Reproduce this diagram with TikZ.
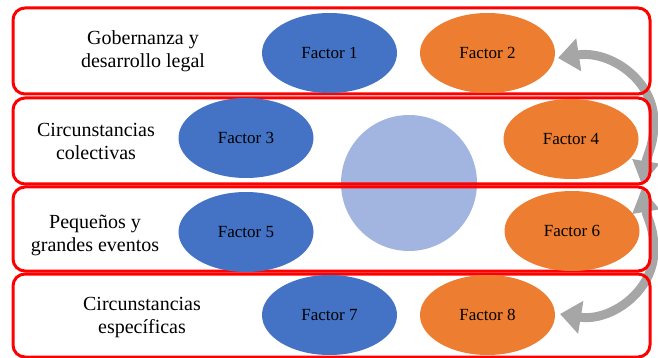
\documentclass[tikz,border=0pt]{standalone}
\usepackage{fontspec}
\setmainfont{Liberation Serif}
\newfontfamily\labelface{Liberation Serif}
\usetikzlibrary{shapes.geometric,arrows.meta}
\definecolor{boxred}{RGB}{255,0,0}
\definecolor{factorblue}{RGB}{68,114,196}
\definecolor{factororange}{RGB}{237,125,49}
\definecolor{hubblue}{RGB}{161,181,224}
\definecolor{arcgray}{RGB}{166,166,166}

\begin{document}
\begin{tikzpicture}[x=1pt,y=-1pt,
  rowbox/.style={draw=boxred, line width=3pt, rounded corners=12pt,
    minimum width=637pt, inner sep=0pt},
  rowlabel/.style={align=center, text=black, font=\labelface\fontsize{20}{23}\selectfont},
  factor/.style={ellipse, minimum width=135pt, minimum height=80pt, inner sep=0pt,
    text=black, font=\labelface\fontsize{17}{20}\selectfont},
  bluef/.style={factor, fill=factorblue},
  orangef/.style={factor, fill=factororange},
  cyclearc/.style={draw=arcgray, line width=9pt,
    {Triangle[length=21pt 0 1,width=32pt 0 1]}-{Triangle[length=24pt 0 1,width=26pt 0 1]}}
]
\useasboundingbox (0,0) rectangle (658,358);

% end points of the two curved arrows on the right
\coordinate (topTip) at (558,58);
\coordinate (midTopTip) at (642,185);
\coordinate (midBotTip) at (642,188);
\coordinate (botTip) at (560,314);

% curved arrows
\draw[cyclearc] (topTip) .. controls (610,50) and (654,80) .. (654,122)
  .. controls (654,145) and (647,155) .. (midTopTip);
\draw[cyclearc] (botTip) .. controls (610,322) and (654,292) .. (654,250)
  .. controls (654,227) and (647,218) .. (midBotTip);

% central circle
\node[circle, fill=hubblue, minimum size=136pt, inner sep=0pt] (hub) at (409,183) {};

% row frames
\node[rowbox, minimum height=86pt] (r1) at (331.5,51) {};
\node[rowbox, minimum height=86pt] (r2) at (331.5,141) {};
\node[rowbox, minimum height=84pt] (r3) at (331.5,229) {};
\node[rowbox, minimum height=83pt] (r4) at (331.5,315.5) {};

% row titles
\node[rowlabel] (t1) at (143,51) {Gobernanza y\\desarrollo legal};
\node[rowlabel] (t2) at (96,141) {Circunstancias\\colectivas};
\node[rowlabel] (t3) at (95,235) {Pequeños y\\grandes eventos};
\node[rowlabel] (t4) at (142,318) {Circunstancias\\específicas};

% factors
\node[bluef] (f1) at (329.5,53) {Factor 1};
\node[orangef] (f2) at (487.5,53) {Factor 2};
\node[bluef] (f3) at (246,138) {Factor 3};
\node[orangef] (f4) at (571,139) {Factor 4};
\node[bluef] (f5) at (246,232) {Factor 5};
\node[orangef] (f6) at (572,231) {Factor 6};
\node[bluef] (f7) at (329.5,315) {Factor 7};
\node[orangef] (f8) at (487.5,315) {Factor 8};
\end{tikzpicture}
\end{document}
